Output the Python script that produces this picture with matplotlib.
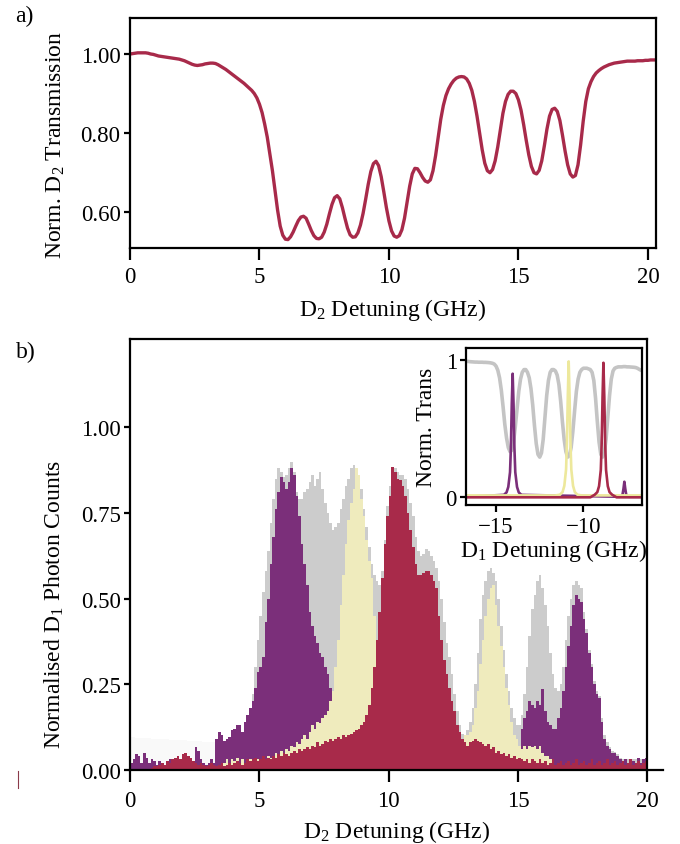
import numpy as np
import matplotlib
matplotlib.use("Agg")
import matplotlib.pyplot as plt

plt.rcParams['font.family'] = ['Liberation Serif', 'DejaVu Serif']
plt.rcParams['mathtext.fontset'] = 'custom'
plt.rcParams['mathtext.rm'] = 'Liberation Serif'
plt.rcParams['mathtext.it'] = 'Liberation Serif:italic'
plt.rcParams['axes.unicode_minus'] = True

# ---------------- data ----------------
# (a) normalised D2 transmission, sampled every 0.1 GHz from 0 to 20.3 GHz
d2_detuning = np.round(np.arange(204) * 0.1, 1)
d2_transmission = [
    1.000, 1.001, 1.002, 1.003, 1.003, 1.003, 1.003, 1.002, 1.000, 0.999,
    0.997, 0.995, 0.994, 0.993, 0.992, 0.991, 0.990, 0.989, 0.988, 0.987,
    0.985, 0.983, 0.980, 0.977, 0.974, 0.972, 0.971, 0.972, 0.973, 0.975,
    0.976, 0.977, 0.977, 0.976, 0.973, 0.969, 0.965, 0.961, 0.956, 0.951,
    0.946, 0.941, 0.936, 0.931, 0.926, 0.920, 0.914, 0.908, 0.900, 0.889,
    0.873, 0.852, 0.823, 0.790, 0.748, 0.705, 0.655, 0.605, 0.565, 0.542,
    0.532, 0.531, 0.538, 0.550, 0.565, 0.579, 0.588, 0.590, 0.585, 0.570,
    0.554, 0.541, 0.534, 0.533, 0.537, 0.550, 0.570, 0.596, 0.620, 0.637,
    0.642, 0.634, 0.612, 0.585, 0.560, 0.543, 0.537, 0.538, 0.548, 0.568,
    0.597, 0.633, 0.671, 0.703, 0.723, 0.729, 0.718, 0.690, 0.652, 0.612,
    0.578, 0.553, 0.540, 0.537, 0.541, 0.556, 0.585, 0.626, 0.666, 0.697,
    0.711, 0.710, 0.700, 0.688, 0.679, 0.676, 0.682, 0.705, 0.743, 0.790,
    0.835, 0.870, 0.895, 0.912, 0.924, 0.933, 0.939, 0.942, 0.943, 0.942,
    0.937, 0.926, 0.908, 0.880, 0.843, 0.800, 0.758, 0.724, 0.705, 0.700,
    0.708, 0.730, 0.765, 0.808, 0.850, 0.880, 0.898, 0.906, 0.906, 0.900,
    0.884, 0.858, 0.822, 0.782, 0.745, 0.716, 0.700, 0.697, 0.706, 0.730,
    0.768, 0.810, 0.843, 0.860, 0.863, 0.855, 0.832, 0.795, 0.755, 0.720,
    0.697, 0.689, 0.693, 0.720, 0.770, 0.830, 0.880, 0.912, 0.930, 0.943,
    0.952, 0.958, 0.963, 0.967, 0.970, 0.973, 0.975, 0.977, 0.978, 0.979,
    0.980, 0.981, 0.982, 0.982, 0.982, 0.982, 0.983, 0.983, 0.983, 0.984,
    0.984, 0.985, 0.985, 0.985,
]

# (b) D1 photon-count histograms, 0.1 GHz bins from 0 to 20 GHz
bin_edges = np.round(np.arange(201) * 0.1, 1)

counts_all = [
    0.015, 0.015, 0.015, 0.015, 0.015, 0.015, 0.015, 0.015, 0.015, 0.015,
    0.015, 0.015, 0.015, 0.015, 0.015, 0.015, 0.015, 0.015, 0.015, 0.015,
    0.015, 0.015, 0.015, 0.015, 0.015, 0.015, 0.015, 0.015, 0.015, 0.015,
    0.015, 0.015, 0.015, 0.015, 0.015, 0.015, 0.015, 0.015, 0.015, 0.015,
    0.020, 0.030, 0.050, 0.080, 0.120, 0.150, 0.180, 0.220, 0.300, 0.380,
    0.450, 0.520, 0.580, 0.640, 0.720, 0.790, 0.850, 0.880, 0.870, 0.855,
    0.860, 0.880, 0.900, 0.870, 0.810, 0.790, 0.790, 0.810, 0.820, 0.840,
    0.860, 0.830, 0.850, 0.870, 0.820, 0.780, 0.750, 0.720, 0.700, 0.710,
    0.720, 0.760, 0.790, 0.830, 0.850, 0.880, 0.890, 0.870, 0.850, 0.820,
    0.760, 0.710, 0.650, 0.600, 0.570, 0.550, 0.540, 0.580, 0.670, 0.770,
    0.830, 0.885, 0.880, 0.870, 0.860, 0.860, 0.850, 0.820, 0.780, 0.740,
    0.680, 0.640, 0.625, 0.630, 0.645, 0.640, 0.625, 0.610, 0.590, 0.550,
    0.500, 0.430, 0.370, 0.330, 0.280, 0.220, 0.170, 0.130, 0.105, 0.100,
    0.115, 0.140, 0.180, 0.250, 0.340, 0.440, 0.510, 0.550, 0.580, 0.590,
    0.575, 0.550, 0.500, 0.420, 0.350, 0.280, 0.230, 0.180, 0.150, 0.130,
    0.130, 0.160, 0.220, 0.300, 0.390, 0.470, 0.510, 0.550, 0.570, 0.530,
    0.480, 0.420, 0.340, 0.280, 0.240, 0.230, 0.250, 0.300, 0.380, 0.450,
    0.500, 0.540, 0.550, 0.540, 0.530, 0.460, 0.410, 0.350, 0.310, 0.260,
    0.230, 0.215, 0.150, 0.100, 0.080, 0.065, 0.055, 0.052, 0.045, 0.035,
    0.030, 0.030, 0.030, 0.030, 0.030, 0.030, 0.030, 0.030, 0.030, 0.030,
]

counts_purple = [
    0.020, 0.030, 0.045, 0.040, 0.020, 0.050, 0.035, 0.020, 0.030, 0.025,
    0.015, 0.025, 0.020, 0.010, 0.020, 0.030, 0.025, 0.035, 0.040, 0.030,
    0.045, 0.035, 0.025, 0.030, 0.020, 0.065, 0.055, 0.030, 0.020, 0.015,
    0.020, 0.030, 0.020, 0.090, 0.110, 0.100, 0.085, 0.090, 0.095, 0.115,
    0.120, 0.130, 0.130, 0.110, 0.140, 0.160, 0.180, 0.200, 0.240, 0.285,
    0.300, 0.330, 0.430, 0.500, 0.600, 0.680, 0.760, 0.810, 0.855, 0.840,
    0.820, 0.840, 0.880, 0.860, 0.800, 0.740, 0.660, 0.600, 0.540, 0.460,
    0.420, 0.390, 0.370, 0.340, 0.330, 0.300, 0.280, 0.240, 0.200, 0.150,
    0.120, 0.100, 0.080, 0.060, 0.050, 0.040, 0.035, 0.030, 0.030, 0.025,
    0.020, 0.025, 0.020, 0.015, 0.020, 0.020, 0.025, 0.020, 0.015, 0.020,
    0.020, 0.015, 0.020, 0.025, 0.020, 0.015, 0.020, 0.020, 0.025, 0.020,
    0.015, 0.020, 0.020, 0.025, 0.020, 0.015, 0.020, 0.025, 0.020, 0.020,
    0.020, 0.025, 0.020, 0.015, 0.020, 0.020, 0.025, 0.020, 0.015, 0.020,
    0.020, 0.025, 0.020, 0.020, 0.015, 0.020, 0.025, 0.020, 0.020, 0.025,
    0.020, 0.020, 0.025, 0.020, 0.015, 0.020, 0.025, 0.020, 0.025, 0.030,
    0.070, 0.120, 0.150, 0.170, 0.200, 0.190, 0.180, 0.200, 0.190, 0.235,
    0.170, 0.140, 0.130, 0.120, 0.120, 0.150, 0.180, 0.230, 0.300, 0.360,
    0.420, 0.480, 0.510, 0.500, 0.490, 0.440, 0.400, 0.340, 0.300, 0.250,
    0.220, 0.210, 0.140, 0.090, 0.070, 0.060, 0.050, 0.050, 0.040, 0.030,
    0.020, 0.030, 0.020, 0.030, 0.025, 0.020, 0.035, 0.020, 0.030, 0.035,
]

counts_yellow = [
    0.000, 0.000, 0.000, 0.000, 0.000, 0.000, 0.000, 0.000, 0.000, 0.000,
    0.000, 0.000, 0.000, 0.000, 0.000, 0.000, 0.000, 0.000, 0.000, 0.000,
    0.000, 0.000, 0.000, 0.000, 0.000, 0.000, 0.000, 0.000, 0.000, 0.000,
    0.000, 0.000, 0.000, 0.000, 0.000, 0.010, 0.020, 0.030, 0.015, 0.030,
    0.025, 0.035, 0.020, 0.030, 0.015, 0.020, 0.030, 0.020, 0.025, 0.030,
    0.030, 0.035, 0.030, 0.040, 0.035, 0.040, 0.050, 0.040, 0.055, 0.050,
    0.060, 0.055, 0.070, 0.065, 0.080, 0.075, 0.090, 0.100, 0.090, 0.110,
    0.130, 0.120, 0.140, 0.135, 0.150, 0.160, 0.170, 0.200, 0.230, 0.300,
    0.380, 0.480, 0.570, 0.660, 0.730, 0.780, 0.820, 0.880, 0.860, 0.790,
    0.740, 0.670, 0.610, 0.560, 0.450, 0.300, 0.200, 0.150, 0.120, 0.100,
    0.090, 0.085, 0.080, 0.080, 0.075, 0.075, 0.070, 0.070, 0.070, 0.065,
    0.065, 0.065, 0.060, 0.060, 0.060, 0.060, 0.060, 0.060, 0.060, 0.060,
    0.060, 0.060, 0.060, 0.060, 0.065, 0.065, 0.070, 0.080, 0.090, 0.100,
    0.100, 0.110, 0.130, 0.180, 0.230, 0.310, 0.380, 0.450, 0.500, 0.530,
    0.540, 0.480, 0.420, 0.360, 0.300, 0.240, 0.190, 0.140, 0.100, 0.090,
    0.070, 0.060, 0.070, 0.060, 0.070, 0.065, 0.070, 0.060, 0.070, 0.050,
    0.040, 0.040, 0.030, 0.020, 0.015, 0.010, 0.015, 0.010, 0.010, 0.015,
    0.010, 0.015, 0.010, 0.010, 0.015, 0.010, 0.010, 0.015, 0.010, 0.010,
    0.010, 0.015, 0.010, 0.010, 0.015, 0.010, 0.010, 0.015, 0.010, 0.010,
    0.010, 0.015, 0.010, 0.010, 0.015, 0.010, 0.010, 0.015, 0.010, 0.010,
]

counts_red = [
    0.000, 0.000, 0.000, 0.000, 0.000, 0.000, 0.000, 0.000, 0.005, 0.010,
    0.010, 0.015, 0.020, 0.015, 0.025, 0.020, 0.030, 0.035, 0.040, 0.030,
    0.045, 0.050, 0.040, 0.035, 0.025, 0.020, 0.015, 0.020, 0.015, 0.010,
    0.015, 0.020, 0.015, 0.010, 0.015, 0.020, 0.010, 0.015, 0.020, 0.015,
    0.020, 0.025, 0.020, 0.015, 0.020, 0.030, 0.025, 0.030, 0.035, 0.025,
    0.030, 0.040, 0.030, 0.035, 0.030, 0.040, 0.035, 0.045, 0.040, 0.050,
    0.045, 0.040, 0.050, 0.055, 0.050, 0.060, 0.055, 0.060, 0.065, 0.060,
    0.070, 0.065, 0.080, 0.070, 0.075, 0.085, 0.080, 0.090, 0.085, 0.090,
    0.095, 0.090, 0.100, 0.095, 0.100, 0.105, 0.110, 0.115, 0.120, 0.130,
    0.140, 0.160, 0.190, 0.240, 0.300, 0.380, 0.460, 0.560, 0.660, 0.740,
    0.800, 0.885, 0.870, 0.850, 0.845, 0.830, 0.800, 0.750, 0.700, 0.650,
    0.600, 0.570, 0.570, 0.575, 0.580, 0.580, 0.570, 0.550, 0.530, 0.450,
    0.380, 0.320, 0.280, 0.240, 0.200, 0.170, 0.130, 0.110, 0.090, 0.080,
    0.070, 0.080, 0.085, 0.090, 0.085, 0.080, 0.075, 0.070, 0.075, 0.060,
    0.065, 0.050, 0.055, 0.045, 0.050, 0.040, 0.045, 0.035, 0.040, 0.030,
    0.035, 0.030, 0.025, 0.030, 0.020, 0.030, 0.025, 0.020, 0.030, 0.020,
    0.025, 0.015, 0.020, 0.030, 0.015, 0.020, 0.025, 0.015, 0.020, 0.025,
    0.015, 0.020, 0.030, 0.015, 0.020, 0.025, 0.015, 0.020, 0.030, 0.015,
    0.020, 0.025, 0.015, 0.020, 0.030, 0.015, 0.020, 0.025, 0.015, 0.020,
    0.025, 0.015, 0.020, 0.030, 0.015, 0.020, 0.025, 0.015, 0.020, 0.025,
]

# faint background level over the first 3.4 GHz
haze_edges = np.round(np.arange(35) * 0.1, 1)
counts_haze = [
    0.095, 0.095, 0.094, 0.094, 0.093, 0.093, 0.092, 0.092, 0.091, 0.091,
    0.090, 0.090, 0.090, 0.089, 0.089, 0.088, 0.088, 0.087, 0.087, 0.086,
    0.086, 0.086, 0.085, 0.085, 0.084, 0.084, 0.083, 0.083, 0.082, 0.082,
    0.082, 0.081, 0.081, 0.080,
]

# inset: D1 transmission and filtered spectra
d1_detuning = np.round(-16.8 + np.arange(103) * 0.1, 1)
d1_transmission = [
    0.990, 0.990, 0.990, 0.988, 0.987, 0.986, 0.985, 0.985, 0.984, 0.984,
    0.984, 0.983, 0.983, 0.982, 0.981, 0.979, 0.976, 0.970, 0.955, 0.925,
    0.870, 0.780, 0.660, 0.530, 0.430, 0.360, 0.330, 0.340, 0.400, 0.510,
    0.640, 0.770, 0.860, 0.910, 0.930, 0.930, 0.910, 0.870, 0.790, 0.670,
    0.520, 0.390, 0.310, 0.290, 0.320, 0.420, 0.580, 0.740, 0.850, 0.910,
    0.930, 0.930, 0.920, 0.890, 0.820, 0.700, 0.550, 0.420, 0.330, 0.290,
    0.300, 0.360, 0.480, 0.630, 0.770, 0.860, 0.910, 0.930, 0.940, 0.940,
    0.940, 0.935, 0.930, 0.910, 0.850, 0.720, 0.550, 0.400, 0.310, 0.290,
    0.320, 0.420, 0.580, 0.740, 0.860, 0.920, 0.940, 0.946, 0.950, 0.950,
    0.950, 0.952, 0.952, 0.950, 0.950, 0.949, 0.948, 0.947, 0.945, 0.940,
    0.932, 0.925, 0.920,
]

purple_d1_x = [-16.74, -14.55, -14.4, -14.3, -14.2, -14.15, -14.1, -14.05, -14.0,
               -13.95, -13.9, -13.8, -13.7, -13.55, -7.9, -7.8, -7.75, -7.7,
               -7.65, -7.6, -7.55, -7.5, -7.4, -6.64]
purple_d1_y = [0.0, 0.014, 0.032, 0.072, 0.18, 0.36, 0.68, 0.90, 0.68,
               0.36, 0.18, 0.072, 0.032, 0.014, 0.0, 0.006, 0.02, 0.06,
               0.11, 0.06, 0.02, 0.006, 0.0, 0.0]
yellow_d1_x = [-16.74, -11.6, -11.34, -11.19, -11.09, -10.99, -10.94, -10.89, -10.84,
               -10.79, -10.74, -10.69, -10.59, -10.49, -10.34, -10.1, -6.64]
yellow_d1_y = [0.01, 0.01, 0.015, 0.035, 0.08, 0.20, 0.40, 0.74, 0.99,
               0.74, 0.40, 0.20, 0.08, 0.035, 0.015, 0.01, 0.01]
red_d1_x = [-16.74, -9.6, -9.35, -9.2, -9.1, -9.0, -8.95, -8.9, -8.85,
            -8.8, -8.75, -8.7, -8.6, -8.5, -8.35, -8.1, -6.64]
red_d1_y = [-0.004, -0.004, 0.015, 0.034, 0.078, 0.196, 0.39, 0.73, 0.98,
            0.73, 0.39, 0.196, 0.078, 0.034, 0.015, -0.004, -0.004]

# ---------------- style ----------------
RED = '#a82a4a'
PURPLE = '#7b2f7a'
YELLOW = '#efebbd'
YELLOW_LINE = '#ede89c'
GREY = '#cccccc'
GREY_LINE = '#c4c4c4'
HAZE = '#f9f9f9'
FS_TICK = 16.5
FS_LABEL = 17


def style_axes(ax, xlen=8.5, ylen=4.3, xpad=2.5, ypad=2.5):
    for sp in ax.spines.values():
        sp.set_linewidth(1.6)
    ax.tick_params(axis='x', direction='out', length=xlen, width=1.6,
                   labelsize=FS_TICK, pad=xpad)
    ax.tick_params(axis='y', direction='out', length=ylen, width=1.6,
                   labelsize=FS_TICK, pad=ypad)


fig = plt.figure(figsize=(6.8, 8.45), dpi=100)
W, H = 680.0, 845.0

# ---------------- panel (a) ----------------
ax1 = fig.add_axes([130 / W, 1 - 249.3 / H, (655.7 - 130) / W, (249.3 - 19) / H])
ax1.plot(d2_detuning, d2_transmission, color=RED, lw=2.4, solid_capstyle='round')
ax1.set_xlim(0, 20.3)
ax1.set_ylim(0.509, 1.091)
ax1.set_xticks([0, 5, 10, 15, 20])
ax1.set_yticks([0.6, 0.8, 1.0])
ax1.set_yticklabels(['0.60', '0.80', '1.00'])
style_axes(ax1, xpad=4)
ax1.set_xlabel(r'D$_\mathregular{2}$ Detuning (GHz)', fontsize=FS_LABEL, labelpad=7)
ax1.set_ylabel(r'Norm. D$_\mathregular{2}$ Transmission', fontsize=FS_LABEL)
ax1.yaxis.set_label_coords(-0.12, 0.453)
fig.text(24 / W, 1 - 16 / H, 'a)', fontsize=FS_LABEL, ha='center', va='center')

# ---------------- panel (b) ----------------
ax2 = fig.add_axes([130 / W, 1 - 770.7 / H, (663 - 130) / W, (770.7 - 340) / H])
ax2.stairs(counts_haze, haze_edges, fill=True, color=HAZE, lw=0)
ax2.stairs(counts_all, bin_edges, fill=True, color=GREY, lw=0)
ax2.stairs(counts_purple, bin_edges, fill=True, color=PURPLE, lw=0)
ax2.stairs(counts_yellow, bin_edges, fill=True, color=YELLOW, lw=0)
ax2.stairs(counts_red, bin_edges, fill=True, color=RED, lw=0)
ax2.set_xlim(0, 20.6)
ax2.set_ylim(0, 1.258)
ax2.spines['right'].set_position(('data', 20))
ax2.spines['top'].set_bounds(0, 20)
ax2.set_xticks([0, 5, 10, 15, 20])
ax2.set_yticks([0, 0.25, 0.5, 0.75, 1.0])
ax2.set_yticklabels(['0.00', '0.25', '0.50', '0.75', '1.00'])
style_axes(ax2, xpad=6)
ax2.set_xlabel(r'D$_\mathregular{2}$ Detuning (GHz)', fontsize=FS_LABEL, labelpad=5)
ax2.set_ylabel(r'Normalised D$_\mathregular{1}$ Photon Counts', fontsize=FS_LABEL)
ax2.yaxis.set_label_coords(-0.12, 0.385)
fig.text(26 / W, 1 - 352 / H, 'b)', fontsize=FS_LABEL, ha='center', va='center')
fig.add_artist(plt.Line2D([18 / W, 18 / W], [1 - 772 / H, 1 - 789 / H],
                          color='#8b3a4a', lw=0.8, transform=fig.transFigure))

# ---------------- inset ----------------
axi = fig.add_axes([465.7 / W, 1 - 505.7 / H, (642 - 465.7) / W, (505.7 - 349) / H])
axi.plot(d1_detuning, d1_transmission, color=GREY_LINE, lw=2.6)
axi.plot(purple_d1_x, purple_d1_y, color=PURPLE, lw=1.9)
axi.plot(yellow_d1_x, yellow_d1_y, color=YELLOW_LINE, lw=1.9)
axi.plot(red_d1_x, red_d1_y, color=RED, lw=1.9)
axi.set_xlim(-16.74, -6.64)
axi.set_ylim(-0.058, 1.088)
axi.set_xticks([-15, -10])
axi.set_yticks([0, 1])
style_axes(axi, xlen=5, ylen=4.3, xpad=3, ypad=2)
axi.set_xlabel(r'D$_\mathregular{1}$ Detuning (GHz)', fontsize=FS_LABEL, labelpad=0)
axi.set_ylabel('Norm. Trans', fontsize=FS_LABEL, labelpad=6)

fig.savefig('out.png', dpi=100)
